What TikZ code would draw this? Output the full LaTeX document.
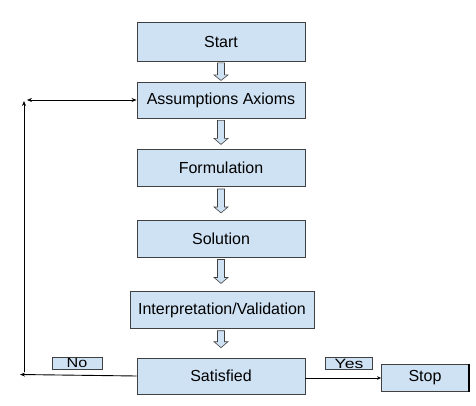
\documentclass[tikz,border=0pt]{standalone}
\usepackage{fontspec}
\setmainfont{Liberation Sans}
\usetikzlibrary{arrows.meta}
\definecolor{boxfill}{HTML}{CFE2F3}
\definecolor{boxline}{HTML}{404040}
\tikzset{
  x=1pt, y=-1pt,
  stepbox/.style={draw=boxline, line width=0.9pt, fill=boxfill, minimum width=168pt, minimum height=37pt, inner sep=0pt, font=\fontsize{16}{18}\selectfont},
  lab/.style={draw=boxline, line width=0.8pt, fill=boxfill, inner sep=0pt, font=\fontsize{13.5}{14}\selectfont},
  conn/.style={line width=0.9pt, -{Stealth[length=5pt,width=4pt]}},
  barrow/.style={draw=boxline, line width=0.6pt, fill=boxfill},
}
\newcommand{\blockarrow}[1]{%
  \draw[barrow] (#1.south) ++(-3.5,2) -- ++(7,0) -- ++(0,18) -- ++(3.5,0) -- ++(-7,6) -- ++(-7,-6) -- ++(3.5,0) -- cycle;}
\newcommand{\shortblockarrow}[1]{%
  \draw[barrow] (#1.south) ++(-3.5,1.5) -- ++(7,0) -- ++(0,12) -- ++(3.5,0) -- ++(-7,5.5) -- ++(-7,-5.5) -- ++(3.5,0) -- cycle;}
\begin{document}
\begin{tikzpicture}
\useasboundingbox (0,0) rectangle (476,406);
\node[stepbox, minimum height=39pt] (start) at (221,41.5) {Start};
\node[stepbox, minimum height=36pt] (assump) at (221,100) {Assumptions Axioms};
\node[stepbox] (form) at (221,168) {Formulation};
\node[stepbox] (sol) at (221,238.5) {Solution};
\node[stepbox, minimum width=184pt, minimum height=37.5pt] (interp) at (222,310) {Interpretation/Validation};
\node[stepbox, minimum height=36pt] (sat) at (221,376) {Satisfied};
\node[stepbox, minimum width=87pt, minimum height=27pt] (stop) at (425,378) {Stop};
\draw[line width=1.6pt] (stop.north east) -- (stop.south east);
\node[lab, minimum width=50pt, minimum height=12pt] (no) at (77,363) {\scalebox{1.2}[1]{No}};
\node[lab, minimum width=47pt, minimum height=12pt] (yes) at (349,363.5) {\scalebox{1.3}[1]{Yes}};

\shortblockarrow{start}
\blockarrow{assump}
\blockarrow{form}
\blockarrow{sol}
\draw[barrow] (interp.south) ++(-4.5,1.5) -- ++(7,0) -- ++(0,11) -- ++(3.5,0) -- ++(-7,6) -- ++(-7,-6) -- ++(3.5,0) -- cycle;

\coordinate (bl) at (20,374.5);
\coordinate (vb) at (24,372);
\coordinate (vt) at (24,101);
\coordinate (hl) at (27,100);
\draw[conn] (sat.west) -- (bl);
\draw[conn] (vb) -- (vt);
\draw[line width=0.9pt, {Stealth[length=5pt,width=4pt]}-{Stealth[length=5pt,width=4pt]}] (hl) -- (assump.west);
\draw[line width=0.6pt, -{Stealth[length=4pt,width=3.5pt]}] (sat.east |- stop.west) -- (stop.west);
\end{tikzpicture}
\end{document}
